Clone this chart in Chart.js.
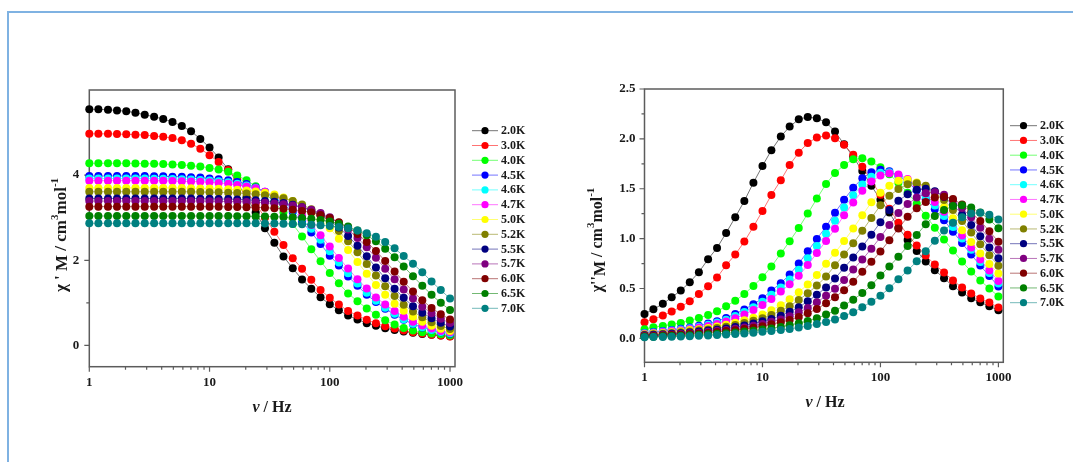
<!DOCTYPE html>
<html>
<head>
<meta charset="utf-8" />
<title>ac susceptibility</title>
<script src="https://cdn.jsdelivr.net/npm/chart.js@4.4.1/dist/chart.umd.min.js"></script>
<style>
  html, body { margin: 0; padding: 0; background: #fff; }
  #page { position: relative; width: 1073px; height: 462px; overflow: hidden; }
  #frame { position: absolute; left: 7px; top: 11px; width: 1100px; height: 480px;
    border-left: 2px solid #7fb2e2; border-top: 2px solid #7fb2e2; }
  canvas { position: absolute; }
</style>
</head>
<body>
<div id="page">
  <div id="frame"></div>
  <canvas id="chi_real" width="540" height="390" style="left:0;top:40px"></canvas>
  <canvas id="chi_imag" width="533" height="390" style="left:540px;top:40px"></canvas>
</div>
<script>
// ac frequencies (Hz)
const freq = [1, 1.19, 1.43, 1.7, 2.03, 2.42, 2.89, 3.46, 4.12, 4.92, 5.88, 7.02, 8.38, 10,
  11.9, 14.3, 17, 20.3, 24.2, 28.9, 34.6, 41.2, 49.2, 58.8, 70.2, 83.8, 100,
  119, 142, 170, 203, 242, 289, 346, 412, 492, 588, 702, 838, 1000]

const temps = ["2.0K", "3.0K", "4.0K", "4.5K", "4.6K", "4.7K", "5.0K", "5.2K", "5.5K", "5.7K", "6.0K", "6.5K", "7.0K"]
const colors = ["#000000", "#ff0000", "#00ff00", "#0000ff", "#00ffff", "#ff00ff", "#ffff00",
  "#808000", "#000080", "#800080", "#800000", "#008000", "#008080"]

// in-phase part chi' (cm3 mol-1)
const re20 = [5.55, 5.545, 5.535, 5.52, 5.5, 5.465, 5.42, 5.37, 5.32, 5.25, 5.155, 5.03, 4.85, 4.65, 4.415, 4.14, 3.82, 3.48, 3.12, 2.75,
  2.41, 2.09, 1.81, 1.55, 1.33, 1.13, 0.965, 0.825, 0.705, 0.61, 0.52, 0.46, 0.405, 0.36, 0.325, 0.295, 0.27, 0.25, 0.23, 0.215]
const re30 = [4.97, 4.97, 4.97, 4.965, 4.96, 4.95, 4.94, 4.92, 4.9, 4.87, 4.82, 4.74, 4.62, 4.47, 4.31, 4.12, 3.89, 3.62, 3.33, 3.0,
  2.67, 2.36, 2.05, 1.8, 1.54, 1.3, 1.12, 0.96, 0.81, 0.7, 0.6, 0.52, 0.45, 0.4, 0.35, 0.31, 0.28, 0.25, 0.23, 0.21]
const re40 = [4.28, 4.28, 4.28, 4.28, 4.28, 4.275, 4.27, 4.265, 4.26, 4.25, 4.24, 4.22, 4.2, 4.17, 4.13, 4.08, 3.99, 3.88, 3.74, 3.57,
  3.37, 3.12, 2.85, 2.56, 2.26, 1.98, 1.7, 1.46, 1.22, 1.04, 0.87, 0.72, 0.59, 0.49, 0.41, 0.35, 0.31, 0.28, 0.26, 0.24]
const re45 = [3.98, 3.98, 3.98, 3.98, 3.98, 3.98, 3.98, 3.976, 3.972, 3.965, 3.961, 3.953, 3.942, 3.923, 3.904, 3.877, 3.839, 3.794, 3.71, 3.608,
  3.478, 3.323, 3.136, 2.905, 2.654, 2.384, 2.107, 1.88, 1.62, 1.4, 1.19, 1.02, 0.86, 0.72, 0.6, 0.5, 0.42, 0.36, 0.31, 0.275]
const re46 = [3.92, 3.92, 3.92, 3.92, 3.92, 3.92, 3.92, 3.918, 3.914, 3.909, 3.903, 3.898, 3.888, 3.873, 3.855, 3.832, 3.8, 3.759, 3.696, 3.604,
  3.49, 3.35, 3.181, 2.976, 2.738, 2.482, 2.213, 1.949, 1.695, 1.457, 1.238, 1.048, 0.887, 0.741, 0.614, 0.509, 0.427, 0.361, 0.317, 0.285]
const re47 = [3.87, 3.87, 3.87, 3.87, 3.87, 3.87, 3.87, 3.87, 3.866, 3.863, 3.855, 3.852, 3.844, 3.833, 3.815, 3.796, 3.771, 3.734, 3.69, 3.609,
  3.509, 3.384, 3.233, 3.053, 2.829, 2.586, 2.324, 2.056, 1.806, 1.555, 1.338, 1.125, 0.963, 0.808, 0.676, 0.558, 0.47, 0.396, 0.341, 0.308]
const re50 = [3.7, 3.7, 3.7, 3.7, 3.7, 3.7, 3.7, 3.7, 3.7, 3.7, 3.696, 3.693, 3.689, 3.686, 3.679, 3.67, 3.656, 3.64, 3.618, 3.586,
  3.544, 3.477, 3.393, 3.281, 3.142, 2.968, 2.752, 2.508, 2.24, 1.957, 1.684, 1.42, 1.189, 0.978, 0.813, 0.671, 0.557, 0.462, 0.394, 0.337]
const re52 = [3.61, 3.61, 3.61, 3.61, 3.61, 3.61, 3.61, 3.61, 3.61, 3.61, 3.61, 3.607, 3.603, 3.6, 3.596, 3.589, 3.581, 3.567, 3.552, 3.53,
  3.499, 3.458, 3.393, 3.311, 3.201, 3.066, 2.897, 2.687, 2.449, 2.187, 1.912, 1.645, 1.389, 1.163, 0.958, 0.797, 0.659, 0.547, 0.455, 0.388]
const re55 = [3.45, 3.45, 3.45, 3.45, 3.45, 3.45, 3.45, 3.45, 3.45, 3.45, 3.45, 3.45, 3.447, 3.443, 3.44, 3.437, 3.43, 3.422, 3.409, 3.395,
  3.373, 3.344, 3.305, 3.243, 3.165, 3.06, 2.932, 2.77, 2.57, 2.343, 2.094, 1.831, 1.577, 1.333, 1.117, 0.922, 0.769, 0.637, 0.531, 0.443]
const re57 = [3.39, 3.39, 3.39, 3.39, 3.39, 3.39, 3.39, 3.39, 3.39, 3.39, 3.39, 3.39, 3.39, 3.387, 3.384, 3.38, 3.377, 3.371, 3.363, 3.35,
  3.336, 3.315, 3.286, 3.248, 3.187, 3.11, 3.008, 2.881, 2.723, 2.526, 2.304, 2.059, 1.801, 1.552, 1.312, 1.1, 0.908, 0.758, 0.628, 0.524]
const re60 = [3.26, 3.26, 3.26, 3.26, 3.26, 3.26, 3.26, 3.26, 3.26, 3.26, 3.26, 3.26, 3.26, 3.26, 3.257, 3.254, 3.251, 3.248, 3.242, 3.234,
  3.222, 3.208, 3.188, 3.16, 3.123, 3.065, 2.991, 2.893, 2.772, 2.62, 2.431, 2.218, 1.983, 1.736, 1.496, 1.266, 1.063, 0.879, 0.735, 0.611]
const re65 = [3.04, 3.04, 3.04, 3.04, 3.04, 3.04, 3.04, 3.04, 3.04, 3.04, 3.04, 3.04, 3.04, 3.04, 3.04, 3.04, 3.037, 3.034, 3.031, 3.029,
  3.023, 3.016, 3.004, 2.992, 2.973, 2.947, 2.913, 2.859, 2.791, 2.699, 2.587, 2.446, 2.271, 2.072, 1.854, 1.625, 1.403, 1.189, 1.001, 0.83]
const re70 = [2.87, 2.87, 2.87, 2.87, 2.87, 2.87, 2.87, 2.87, 2.87, 2.87, 2.87, 2.87, 2.87, 2.87, 2.87, 2.87, 2.87, 2.87, 2.867, 2.865,
  2.862, 2.859, 2.854, 2.847, 2.837, 2.824, 2.807, 2.783, 2.751, 2.7, 2.636, 2.55, 2.43, 2.28, 2.1, 1.92, 1.72, 1.5, 1.3, 1.1]

// out-of-phase part chi'' (cm3 mol-1)
const im20 = [0.245, 0.292, 0.346, 0.412, 0.479, 0.563, 0.663, 0.794, 0.907, 1.057, 1.214, 1.378, 1.561, 1.729, 1.886, 2.023, 2.123, 2.196, 2.22, 2.206,
  2.166, 2.073, 1.945, 1.82, 1.678, 1.53, 1.39, 1.261, 1.11, 0.987, 0.877, 0.77, 0.683, 0.603, 0.523, 0.46, 0.402, 0.362, 0.322, 0.282]
const im30 = [0.162, 0.192, 0.229, 0.269, 0.316, 0.372, 0.446, 0.523, 0.61, 0.733, 0.84, 0.97, 1.12, 1.277, 1.438, 1.585, 1.739, 1.862, 1.959, 2.013,
  2.033, 2.006, 1.94, 1.84, 1.72, 1.58, 1.44, 1.3, 1.16, 1.04, 0.93, 0.83, 0.74, 0.66, 0.58, 0.51, 0.45, 0.4, 0.36, 0.31]
const im40 = [0.092, 0.112, 0.125, 0.139, 0.155, 0.179, 0.205, 0.235, 0.272, 0.322, 0.376, 0.446, 0.526, 0.613, 0.72, 0.85, 0.974, 1.107, 1.251, 1.401,
  1.548, 1.658, 1.738, 1.795, 1.805, 1.772, 1.715, 1.645, 1.56, 1.46, 1.35, 1.23, 1.11, 0.99, 0.88, 0.77, 0.67, 0.58, 0.5, 0.42]
const im45 = [0.055, 0.064, 0.074, 0.084, 0.096, 0.11, 0.127, 0.148, 0.172, 0.205, 0.245, 0.29, 0.342, 0.402, 0.479, 0.553, 0.64, 0.75, 0.873, 0.997,
  1.12, 1.26, 1.39, 1.51, 1.605, 1.665, 1.69, 1.675, 1.63, 1.565, 1.485, 1.395, 1.295, 1.185, 1.07, 0.955, 0.84, 0.73, 0.625, 0.52]
const im46 = [0.05, 0.059, 0.068, 0.078, 0.089, 0.102, 0.117, 0.136, 0.158, 0.187, 0.223, 0.265, 0.313, 0.368, 0.436, 0.511, 0.591, 0.688, 0.803, 0.926,
  1.048, 1.178, 1.312, 1.436, 1.542, 1.619, 1.661, 1.666, 1.636, 1.582, 1.51, 1.426, 1.332, 1.228, 1.116, 1.002, 0.889, 0.765, 0.655, 0.55]
const im47 = [0.046, 0.054, 0.063, 0.073, 0.082, 0.094, 0.108, 0.124, 0.145, 0.169, 0.201, 0.24, 0.284, 0.335, 0.394, 0.469, 0.542, 0.627, 0.735, 0.856,
  0.977, 1.098, 1.235, 1.362, 1.48, 1.573, 1.632, 1.656, 1.642, 1.597, 1.534, 1.455, 1.367, 1.269, 1.161, 1.03, 0.91, 0.79, 0.68, 0.575]
const im50 = [0.041, 0.048, 0.054, 0.062, 0.072, 0.083, 0.092, 0.105, 0.119, 0.137, 0.157, 0.181, 0.207, 0.24, 0.283, 0.331, 0.393, 0.463, 0.541, 0.634,
  0.749, 0.859, 0.975, 1.102, 1.234, 1.364, 1.461, 1.531, 1.58, 1.59, 1.563, 1.503, 1.418, 1.317, 1.204, 1.084, 0.965, 0.852, 0.746, 0.65]
const im52 = [0.036, 0.04, 0.047, 0.053, 0.061, 0.07, 0.081, 0.09, 0.103, 0.117, 0.134, 0.154, 0.177, 0.202, 0.235, 0.277, 0.323, 0.384, 0.453, 0.529,
  0.62, 0.732, 0.84, 0.953, 1.078, 1.207, 1.334, 1.429, 1.497, 1.546, 1.555, 1.529, 1.469, 1.387, 1.288, 1.177, 1.061, 0.944, 0.833, 0.729]
const im55 = [0.03, 0.035, 0.039, 0.045, 0.051, 0.059, 0.068, 0.078, 0.087, 0.099, 0.113, 0.129, 0.149, 0.171, 0.195, 0.227, 0.267, 0.312, 0.371, 0.437,
  0.51, 0.599, 0.707, 0.81, 0.92, 1.04, 1.164, 1.287, 1.379, 1.445, 1.491, 1.5, 1.475, 1.418, 1.338, 1.242, 1.136, 1.023, 0.911, 0.804]
const im57 = [0.025, 0.029, 0.034, 0.038, 0.044, 0.05, 0.057, 0.066, 0.076, 0.085, 0.097, 0.11, 0.126, 0.145, 0.167, 0.19, 0.221, 0.261, 0.305, 0.362,
  0.426, 0.498, 0.585, 0.69, 0.791, 0.898, 1.015, 1.137, 1.257, 1.346, 1.411, 1.456, 1.465, 1.44, 1.384, 1.307, 1.213, 1.109, 0.999, 0.889]
const im60 = [0.021, 0.024, 0.028, 0.033, 0.037, 0.043, 0.048, 0.055, 0.064, 0.074, 0.082, 0.094, 0.107, 0.122, 0.141, 0.162, 0.185, 0.214, 0.253, 0.295,
  0.351, 0.413, 0.483, 0.567, 0.669, 0.767, 0.87, 0.984, 1.102, 1.218, 1.305, 1.367, 1.411, 1.42, 1.396, 1.342, 1.267, 1.176, 1.075, 0.968]
const im65 = [0.015, 0.017, 0.02, 0.023, 0.027, 0.031, 0.035, 0.04, 0.045, 0.052, 0.06, 0.069, 0.077, 0.088, 0.1, 0.115, 0.132, 0.152, 0.174, 0.202,
  0.238, 0.278, 0.33, 0.388, 0.454, 0.533, 0.629, 0.721, 0.818, 0.925, 1.036, 1.145, 1.227, 1.286, 1.327, 1.335, 1.312, 1.262, 1.191, 1.105]
const im70 = [0.011, 0.013, 0.014, 0.016, 0.019, 0.021, 0.025, 0.029, 0.033, 0.038, 0.043, 0.049, 0.057, 0.066, 0.073, 0.083, 0.095, 0.108, 0.125, 0.144,
  0.164, 0.19, 0.224, 0.262, 0.311, 0.367, 0.428, 0.503, 0.593, 0.68, 0.772, 0.873, 0.978, 1.081, 1.158, 1.213, 1.252, 1.26, 1.239, 1.191]

const realSeries = [re20, re30, re40, re45, re46, re47, re50, re52, re55, re57, re60, re65, re70]
const imagSeries = [im20, im30, im40, im45, im46, im47, im50, im52, im55, im57, im60, im65, im70]

// tick values
const xMajor = [1, 10, 100, 1000]
const xMinor = [2, 3, 4, 5, 6, 7, 8, 9, 20, 30, 40, 50, 60, 70, 80, 90, 200, 300, 400, 500, 600, 700, 800, 900]
const reMajor = [0, 2, 4]
const reMinor = [1, 3, 5]
const imMajor = [0, 0.5, 1, 1.5, 2, 2.5]
const imMinor = [0.25, 0.75, 1.25, 1.75, 2.25]

const SERIF = '"Liberation Serif", "Times New Roman", serif'

function fade(hex, a) {
  const n = parseInt(hex.slice(1), 16)
  return "rgba(" + (n >> 16) + "," + ((n >> 8) & 255) + "," + (n & 255) + "," + a + ")"
}

function richText(ctx, parts, cx, cy, angle) {
  ctx.save()
  ctx.translate(cx, cy)
  ctx.rotate(angle)
  ctx.textAlign = "left"
  ctx.textBaseline = "alphabetic"
  ctx.fillStyle = "#1a1a1a"
  let total = 0
  for (const p of parts) {
    ctx.font = p.font
    total += ctx.measureText(p.text).width
  }
  let x = -total / 2
  for (const p of parts) {
    ctx.font = p.font
    ctx.fillText(p.text, x, 6 + (p.dy || 0))
    x += ctx.measureText(p.text).width
  }
  ctx.restore()
}

// frame, tick marks, axis titles and the legend
const panelDecor = {
  id: "panelDecor",
  beforeDatasetsDraw(chart, args, o) {
    const { ctx, chartArea: a } = chart
    const xs = chart.scales.x
    const ys = chart.scales.y
    ctx.save()
    ctx.strokeStyle = "#5c5c5c"
    ctx.lineWidth = 1.5
    ctx.strokeRect(a.left, a.top, a.right - a.left, a.bottom - a.top)
    ctx.lineWidth = 1.2
    ctx.beginPath()
    const xTick = (v, len) => {
      const px = xs.getPixelForValue(v)
      ctx.moveTo(px, a.bottom)
      ctx.lineTo(px, a.bottom + len)
    }
    const yTick = (v, len) => {
      const py = ys.getPixelForValue(v)
      ctx.moveTo(a.left, py)
      ctx.lineTo(a.left - len, py)
    }
    xMajor.forEach((v) => xTick(v, 5))
    xMinor.forEach((v) => xTick(v, 3))
    o.yMajor.forEach((v) => yTick(v, 5))
    o.yMinor.forEach((v) => yTick(v, 3))
    ctx.stroke()
    ctx.restore()
  },
  afterDraw(chart, args, o) {
    const { ctx } = chart
    richText(ctx, [
      { text: "v", font: "italic bold 16px " + SERIF },
      { text: " / Hz", font: "bold 16px " + SERIF },
    ], o.xTitle[0], o.xTitle[1], 0)
    richText(ctx, o.yTitleParts, o.yTitle[0], o.yTitle[1], -Math.PI / 2)

    const lg = o.legend
    ctx.save()
    ctx.font = "bold 12px " + SERIF
    ctx.textBaseline = "middle"
    ctx.textAlign = "left"
    chart.data.datasets.forEach((ds, k) => {
      const yy = lg.top + k * lg.step
      ctx.strokeStyle = fade(colors[k], 0.55)
      ctx.lineWidth = 1
      ctx.beginPath()
      ctx.moveTo(lg.x0, yy)
      ctx.lineTo(lg.x1, yy)
      ctx.stroke()
      ctx.fillStyle = colors[k]
      ctx.beginPath()
      ctx.arc((lg.x0 + lg.x1) / 2, yy, 3.6, 0, Math.PI * 2)
      ctx.fill()
      ctx.fillStyle = "#1a1a1a"
      ctx.fillText(ds.label, lg.x1 + 3, yy + 0.5)
    })
    ctx.restore()
  },
}

function buildDatasets(series) {
  return series.map((vals, k) => ({
    label: temps[k],
    data: freq.map((f, i) => ({ x: f, y: vals[i] })),
    showLine: true,
    borderColor: fade(colors[k], 0.55),
    borderWidth: 1,
    backgroundColor: colors[k],
    pointBackgroundColor: colors[k],
    pointBorderWidth: 0,
    pointRadius: 4,
    pointHoverRadius: 4,
    clip: false,
    order: series.length - k,
  }))
}

function buildScales(yMin, yMax, yMajor, yLabel, yWidth, xHeight, yPad) {
  const tickFont = { family: SERIF, size: 13, weight: "bold" }
  return {
    x: {
      type: "logarithmic",
      min: 1,
      max: 1100,
      afterBuildTicks: (axis) => { axis.ticks = xMajor.map((v) => ({ value: v })) },
      afterFit: (axis) => { axis.height = xHeight },
      grid: { display: false, drawTicks: false },
      border: { display: false },
      ticks: { font: tickFont, color: "#1a1a1a", padding: 8, maxRotation: 0, autoSkip: false, callback: (v) => String(v) },
    },
    y: {
      type: "linear",
      min: yMin,
      max: yMax,
      afterBuildTicks: (axis) => { axis.ticks = yMajor.map((v) => ({ value: v })) },
      afterFit: (axis) => { axis.width = yWidth },
      grid: { display: false, drawTicks: false },
      border: { display: false },
      ticks: { font: tickFont, color: "#1a1a1a", padding: yPad, autoSkip: false, callback: yLabel },
    },
  }
}

const realChart = new Chart(document.getElementById("chi_real"), {
  type: "scatter",
  data: { datasets: buildDatasets(realSeries) },
  options: {
    responsive: false,
    animation: false,
    devicePixelRatio: 1,
    layout: { padding: { left: 0, right: 85, top: 50, bottom: 0 } },
    scales: buildScales(-0.5, 6.0, reMajor, (v) => String(v), 89.3, 63.3, 10),
    plugins: {
      legend: { display: false },
      tooltip: { enabled: false },
      panelDecor: {
        yMajor: reMajor,
        yMinor: reMinor,
        xTitle: [272, 366],
        yTitle: [60, 195],
        yTitleParts: [
          { text: "\u03c7 ' ", font: "bold 17px " + SERIF },
          { text: "M", font: "bold 17px " + SERIF, dy: 1 },
          { text: " / cm", font: "bold 17px " + SERIF },
          { text: "3", font: "bold 11px " + SERIF, dy: -8 },
          { text: "mol", font: "bold 17px " + SERIF },
          { text: "-1", font: "bold 11px " + SERIF, dy: -8 },
        ],
        legend: { x0: 472, x1: 498, top: 90.7, step: 14.8 },
      },
    },
  },
  plugins: [panelDecor],
})

const imagChart = new Chart(document.getElementById("chi_imag"), {
  type: "scatter",
  data: { datasets: buildDatasets(imagSeries) },
  options: {
    responsive: false,
    animation: false,
    devicePixelRatio: 1,
    layout: { padding: { left: 0, right: 69.7, top: 49, bottom: 0 } },
    scales: buildScales(-0.24, 2.5, imMajor, (v) => v.toFixed(1), 104.5, 67.7, 9),
    plugins: {
      legend: { display: false },
      tooltip: { enabled: false },
      panelDecor: {
        yMajor: imMajor,
        yMinor: imMinor,
        xTitle: [285, 361],
        yTitle: [56, 200],
        yTitleParts: [
          { text: "\u03c7''", font: "bold 16px " + SERIF },
          { text: "M", font: "bold 16px " + SERIF, dy: 3 },
          { text: " / cm", font: "bold 16px " + SERIF },
          { text: "3", font: "bold 11px " + SERIF, dy: -8 },
          { text: "mol", font: "bold 16px " + SERIF },
          { text: "-1", font: "bold 11px " + SERIF, dy: -8 },
        ],
        legend: { x0: 470, x1: 497, top: 85.7, step: 14.75 },
      },
    },
  },
  plugins: [panelDecor],
})
</script>
</body>
</html>
